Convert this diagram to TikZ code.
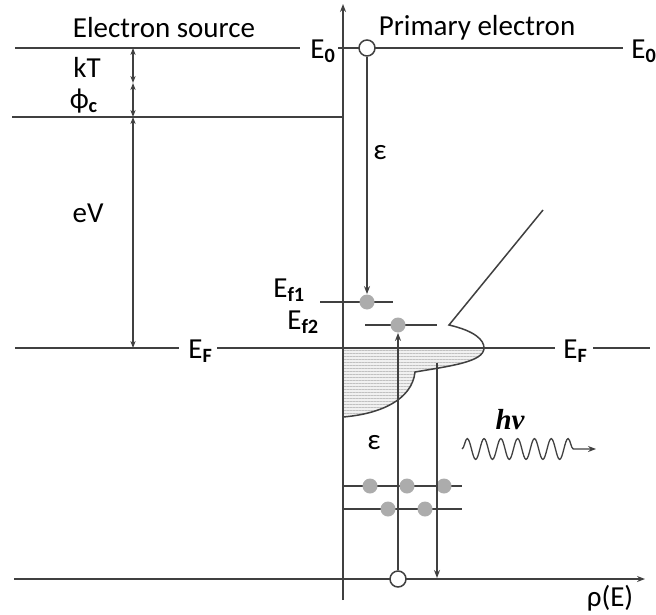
\documentclass[tikz,border=0pt]{standalone}
\usepackage{fontspec}
\setmainfont{Carlito}
\newfontfamily\hnufont{Liberation Serif}
\usetikzlibrary{arrows.meta,patterns.meta,decorations.pathmorphing}

\begin{document}
\begin{tikzpicture}[
  x=0.5pt, y=-0.5pt,
  ln/.style={draw=black!75, line width=0.75pt},
  arr/.style={ln, -{Stealth[length=4pt,width=3pt]}},
  darr/.style={ln, {Stealth[length=3.5pt,width=2.6pt]}-{Stealth[length=3.5pt,width=2.6pt]}},
  lbl/.style={font=\fontsize{14.5}{17}\selectfont, inner sep=1pt},
  ecirc/.style={circle, draw=black!75, fill=white, line width=0.75pt,
    minimum size=8pt, inner sep=0pt},
  edot/.style={circle, fill=gray!65, minimum size=7.5pt, inner sep=0pt},
]
\useasboundingbox (0,0) rectangle (656,614);

%% DENSITY OF STATES
\path[fill=gray!22, pattern={Lines[angle=0,distance=1.5pt,line width=0.35pt]},
      pattern color=gray!75]
  (343,348) -- (484,348) .. controls (484,362) and (450,366) .. (415,372)
  .. controls (412,400) and (380,414) .. (343,417) -- cycle;
\path[fill=gray!22, fill opacity=0.5]
  (343,348) -- (484,348) .. controls (484,362) and (450,366) .. (415,372)
  .. controls (412,400) and (380,414) .. (343,417) -- cycle;
\draw[ln] (543,210) -- (449,325) .. controls (475,331) and (484,340) .. (484,348)
  .. controls (484,362) and (450,366) .. (415,372)
  .. controls (412,400) and (380,414) .. (343,417);

%% TITLES
\node[lbl] (src) at (164,28) {Electron source};
\node[lbl] (prim) at (477,28) {Primary electron};

%% LEVELS
\node[lbl, anchor=west] (E0l) at (308,51) {E\textsubscript{\bfseries 0}};
\node[lbl, anchor=west, inner sep=0pt] (E0r) at (631,51) {E\textsubscript{\bfseries 0}};
\node[lbl, anchor=west] (EFl) at (186,351) {E\textsubscript{\bfseries F}};
\node[lbl, anchor=west] (EFr) at (561,351) {E\textsubscript{\bfseries F}};
\node[lbl, anchor=west] (Ef1) at (271,290) {E\textsubscript{\bfseries f1}};
\node[lbl, anchor=west] (Ef2) at (285,322) {E\textsubscript{\bfseries f2}};

\coordinate (e0a) at (15,48);   \coordinate (e0b) at (300,48);
\coordinate (e0c) at (338,48);  \coordinate (e0d) at (623,48);
\coordinate (vaca) at (12,117); \coordinate (vacb) at (343,117);
\coordinate (efa) at (15,348);  \coordinate (efb) at (179,348);
\coordinate (efc) at (217,348); \coordinate (efd) at (555,348);
\coordinate (efe) at (593,348); \coordinate (eff) at (650,348);

\draw[ln] (e0a) -- (e0b);
\draw[ln] (e0c) -- (e0d);
\draw[ln] (vaca) -- (vacb);
\draw[ln] (efa) -- (efb);
\draw[ln] (efc) -- (efd);
\draw[ln] (efe) -- (eff);

\draw[ln] (320,302) coordinate (f1a) -- (393,302) coordinate (f1b);
\draw[ln] (365,325) coordinate (f2a) -- (437,325) coordinate (f2b);
\draw[ln] (343,486) coordinate (ra) -- (462,486) coordinate (rb);
\draw[ln] (343,509) coordinate (sa) -- (462,509) coordinate (sb);

%% AXES
\coordinate (ybot) at (343,600); \coordinate (ytop) at (343,4);
\coordinate (xl) at (14,579);    \coordinate (xr) at (645,579);
\draw[arr] (ybot) -- (ytop);
\draw[arr] (xl) -- (xr);
\node[lbl] (rho) at (610,598) {ρ(E)};

%% SOURCE ENERGIES
\coordinate (kt0) at (133,48);
\coordinate (kt1) at (133,83);
\coordinate (kt2) at (133,117);
\coordinate (kt3) at (133,348);
\draw[darr] (kt0) -- (kt1);
\draw[darr] (kt1) -- (kt2);
\draw[darr] (kt2) -- (kt3);
\node[lbl] (kT) at (87,67) {kT};
\node[lbl] (phi) at (84,101) {ϕ\textsubscript{\bfseries c}};
\node[lbl] (eV) at (88,213) {eV};

%% ELECTRONS
\node[ecirc] (top) at (367,48) {};
\node[ecirc] (bot) at (398,579) {};
\node[edot] (f1) at (367,302) {};
\node[edot] (f2) at (398,325) {};
\node[edot] (a1) at (370,486) {};
\node[edot] (a2) at (407,486) {};
\node[edot] (a3) at (444,486) {};
\node[edot] (b1) at (388,509) {};
\node[edot] (b2) at (425,509) {};

\draw[arr] (top) -- (f1);
\draw[arr] (bot) -- (f2);
\coordinate (dn0) at (437,363);
\coordinate (dn1) at (437,578);
\draw[arr] (dn0) -- (dn1);
\node[lbl] (eps1) at (380,153) {ε};
\node[lbl] (eps2) at (374,443) {ε};

%% PHOTON
\coordinate (w0) at (462,449);
\coordinate (w1) at (596,449);
\draw[arr, line width=0.65pt, decorate,
      decoration={snake, segment length=8.4pt, amplitude=5.2pt, post length=8pt}]
  (w0) -- (w1);
\node[lbl, font=\fontsize{14.5}{17}\selectfont\hnufont\bfseries\itshape]
  (hnu) at (510,420) {hν};

\end{tikzpicture}
\end{document}
